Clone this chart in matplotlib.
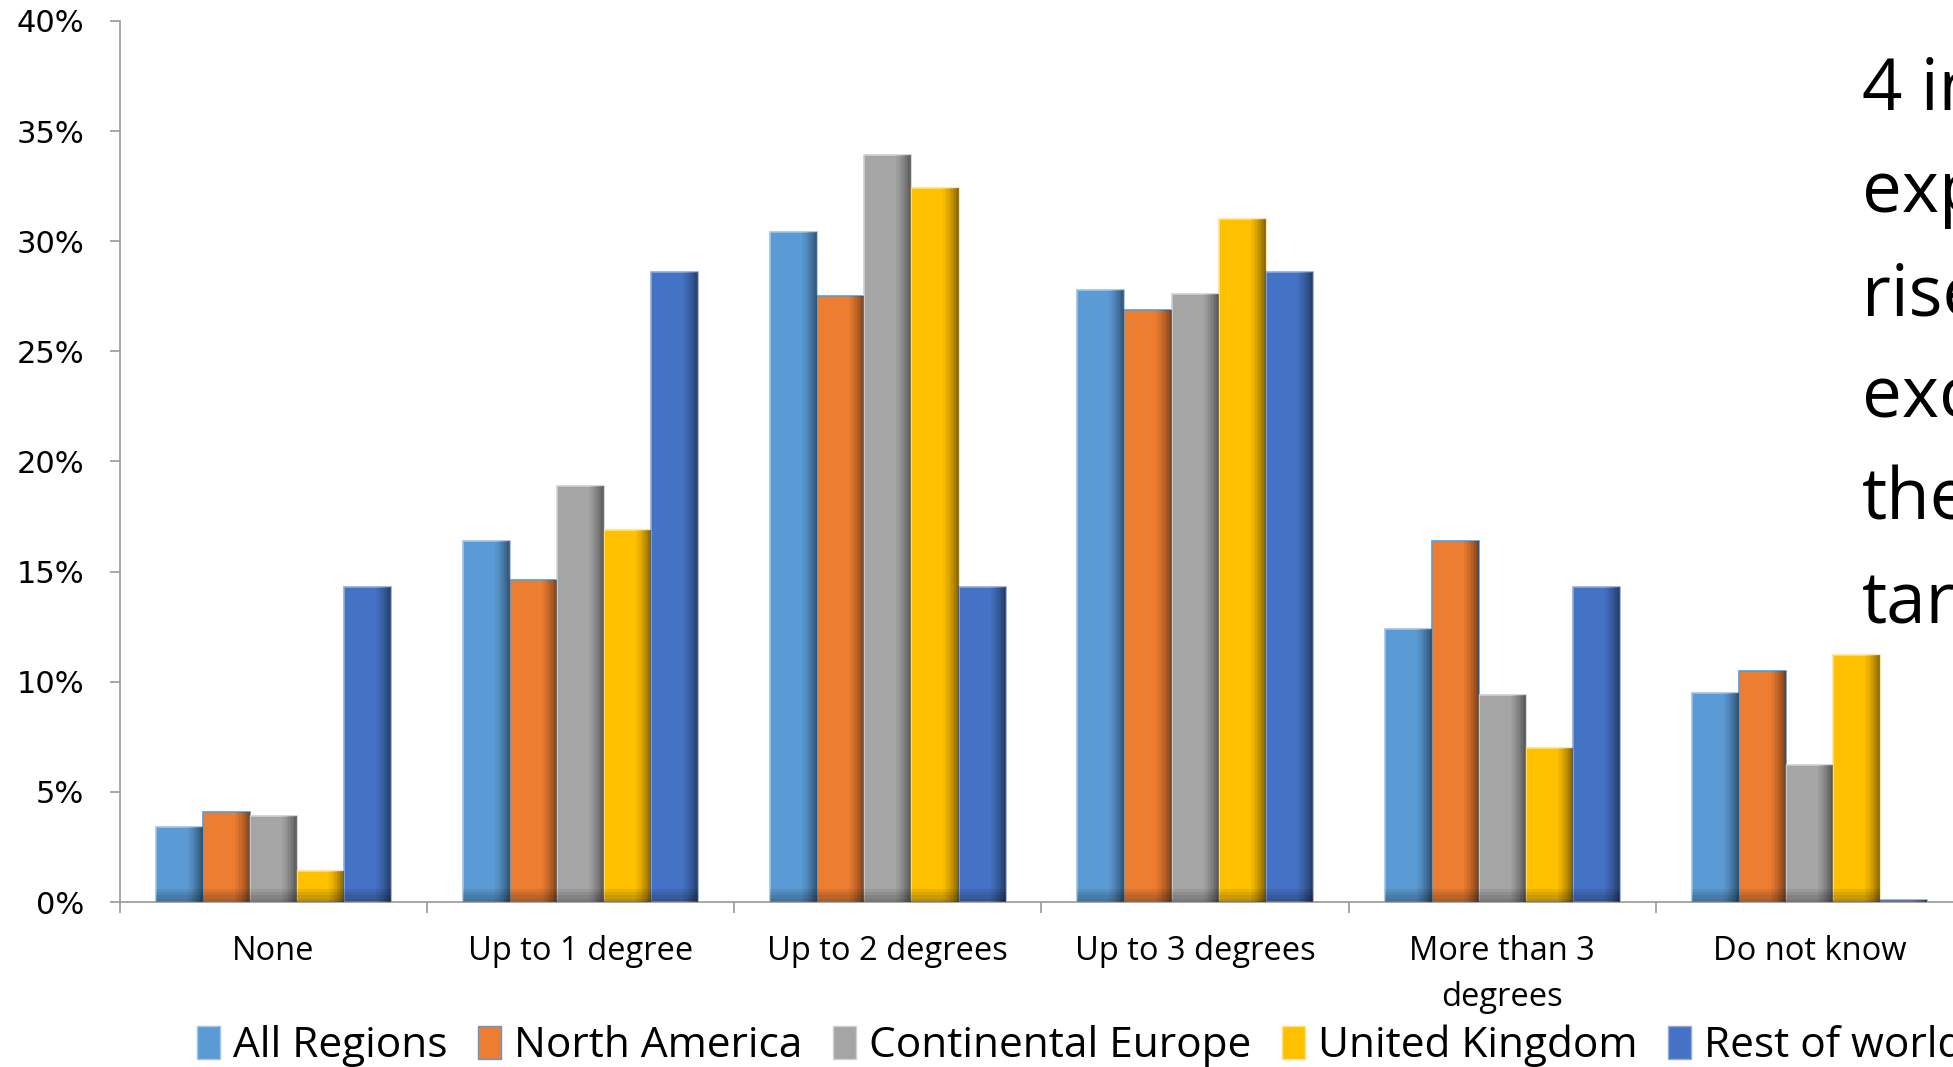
import matplotlib
matplotlib.use("Agg")
import matplotlib.pyplot as plt
import numpy as np
from matplotlib.patches import Patch
from matplotlib.ticker import FixedLocator, PercentFormatter

categories = ["None", "Up to 1 degree", "Up to 2 degrees", "Up to 3 degrees",
              "More than 3\ndegrees", "Do not know"]
series_names = ["All Regions", "North America", "Continental Europe",
                "United Kingdom", "Rest of world"]
all_regions = [3.4, 16.4, 30.4, 27.8, 12.4, 9.5]
north_america = [4.1, 14.6, 27.5, 26.9, 16.4, 10.5]
continental_europe = [3.9, 18.9, 33.9, 27.6, 9.4, 6.2]
united_kingdom = [1.4, 16.9, 32.4, 31.0, 7.0, 11.2]
rest_of_world = [14.3, 28.6, 14.3, 28.6, 14.3, 0.1]
series_values = [all_regions, north_america, continental_europe,
                 united_kingdom, rest_of_world]
colors = ["#5B9BD5", "#ED7D31", "#A5A5A5", "#FFC000", "#4472C4"]
edges = ["#9DC3E6", "#5B9BD5", "#D0D0D0", "#FFE08A", "#8FAADC"]
y_ticks = [0, 5, 10, 15, 20, 25, 30, 35, 40]
side_text = ["4 in 10", "expect", "rise to", "exceed", "the", "target"]

W, H = 1953, 1067
fig = plt.figure(figsize=(W / 100, H / 100), dpi=100)
ax = fig.add_axes([120 / W, 1 - 902 / H, 1843 / W, (902 - 21) / H])

x = np.arange(len(categories))
bw = 0.1533
nstrip = 10
for i, (vals, c, ec) in enumerate(zip(series_values, colors, edges)):
    xs = x + (i - 2) * bw
    vals = np.array(vals)
    ax.bar(xs, vals, width=bw, color=c, edgecolor=ec, linewidth=1.2, zorder=2)
    # right-side shading to mimic the bevel gradient
    shade_w = bw * 0.32
    sw = shade_w / nstrip
    for k in range(nstrip):
        a = 0.04 + 0.42 * (k / (nstrip - 1)) ** 1.3
        xk = xs + bw / 2 - shade_w + sw * (k + 0.5)
        ax.bar(xk, vals, width=sw, color="black", alpha=a, linewidth=0, zorder=3)
    # bottom shading
    for hgt in (0.6, 0.45, 0.3, 0.15):
        ax.bar(xs, np.minimum(vals, hgt), width=bw, color="black", alpha=0.07,
               linewidth=0, zorder=3)

ax.set_xlim(-0.5, 5.5)
ax.set_ylim(0, 40)
ax.yaxis.set_major_locator(FixedLocator(y_ticks))
ax.yaxis.set_major_formatter(PercentFormatter(decimals=0))
ax.set_xticks(x)
ax.set_xticklabels(categories, fontfamily="Open Sans", fontsize=23.5,
                   linespacing=1.5)
ax.xaxis.set_minor_locator(FixedLocator(np.arange(-0.5, 6.0, 1.0)))
ax.tick_params(axis="x", which="major", length=0, pad=24)
ax.tick_params(axis="x", which="minor", length=8, width=1.3, color="#A0A0A0",
               direction="out")
ax.tick_params(axis="y", which="major", length=7, width=1.3, color="#A0A0A0",
               pad=19, labelsize=22)
for lab in ax.get_yticklabels():
    lab.set_fontfamily("DejaVu Sans")
for s in ["top", "right"]:
    ax.spines[s].set_visible(False)
for s in ["left", "bottom"]:
    ax.spines[s].set_color("#A0A0A0")
    ax.spines[s].set_linewidth(1.3)

handles = [Patch(facecolor=c, edgecolor=ec, linewidth=1.0) for c, ec in zip(colors, edges)]
fig.legend(handles, series_names, loc="center left",
           bbox_to_anchor=(197 / W, 1 - 1046 / H), ncol=5, frameon=False,
           prop={"family": "Open Sans", "size": 30.5},
           handlelength=0.55, handleheight=0.8, handletextpad=0.3,
           columnspacing=0.72, borderpad=0, borderaxespad=0)

baselines = [110, 212, 315, 417, 520, 623]
for t, b in zip(side_text, baselines):
    fig.text(1862 / W, 1 - b / H, t, fontfamily="Open Sans", fontsize=51,
             ha="left", va="baseline", color="black")

fig.savefig("out.png", dpi=100)
